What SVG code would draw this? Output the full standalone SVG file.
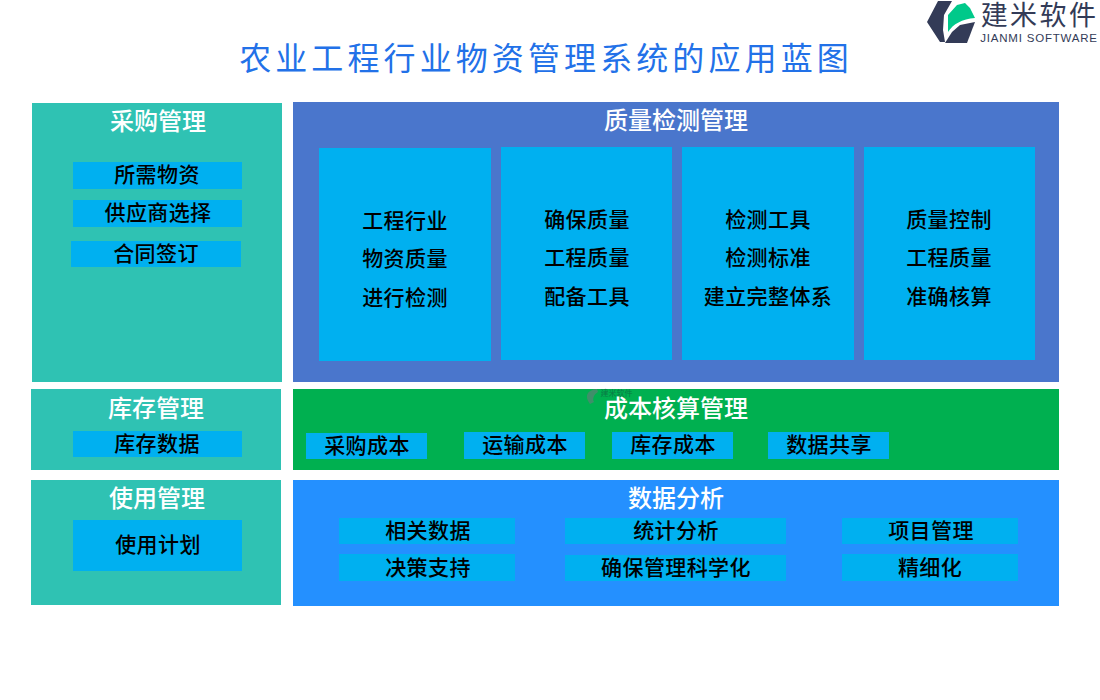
<svg xmlns="http://www.w3.org/2000/svg" width="1100" height="700" viewBox="0 0 1100 700">
<style>
text{font-family:"Noto Sans CJK SC","Noto Sans",sans-serif;text-anchor:middle}
.t{fill:#fff;font-size:24px;font-weight:500}
.b{fill:#000;font-size:21px;letter-spacing:.4px;font-weight:500}
.c{fill:#00b0f0}
.g{fill:#2fc2b3}
.title{fill:#2271e8;font-size:32px;letter-spacing:4.1px}
.logo{fill:#333b57}
</style>
<rect width="1100" height="700" fill="#fff"/>
<text class="title" x="546" y="70">农业工程行业物资管理系统的应用蓝图</text>
<g id="logo">
<path class="logo" d="M938 1H952L944 15L943 30L945 42H940L927 22Z"/>
<path d="M948 31V15L957 5L965 3L970 8L975 18C962 19 953 24 948 32Z" fill="#00c98a"/>
<path class="logo" d="M945 43L952 32L960 25L975 22L967 43Z"/>
<text x="1039.500" y="25" style="font-size:27px;letter-spacing:2.400px;fill:#333b57">建米软件</text>
<text x="1039" y="42" style="font-family:'Liberation Sans',sans-serif;font-size:11.500px;letter-spacing:.8px;fill:#333b57">JIANMI SOFTWARE</text>
</g>
<g id="purchase">
<rect class="g" x="32" y="103" width="250" height="279"/>
<text class="t" x="158" y="130">采购管理</text>
<rect class="c" x="73" y="162" width="169" height="27"/><text class="b" x="157" y="182">所需物资</text>
<rect class="c" x="73" y="200" width="169" height="27"/><text class="b" x="158" y="220">供应商选择</text>
<rect class="c" x="71" y="241" width="170" height="26"/><text class="b" x="156" y="261">合同签订</text>
</g>
<g id="quality">
<rect x="293" y="102" width="766" height="280" fill="#4a76cc"/>
<text class="t" x="676" y="129">质量检测管理</text>
<rect class="c" x="319" y="148" width="172" height="213"/>
<text class="b" x="405" y="228">工程行业</text><text class="b" x="405" y="266">物资质量</text><text class="b" x="405" y="305">进行检测</text>
<rect class="c" x="501" y="147" width="171" height="213"/>
<text class="b" x="587" y="227">确保质量</text><text class="b" x="587" y="265">工程质量</text><text class="b" x="587" y="304">配备工具</text>
<rect class="c" x="682" y="147" width="172" height="213"/>
<text class="b" x="768" y="227">检测工具</text><text class="b" x="768" y="265">检测标准</text><text class="b" x="768" y="304">建立完整体系</text>
<rect class="c" x="864" y="147" width="171" height="213"/>
<text class="b" x="949" y="227">质量控制</text><text class="b" x="949" y="265">工程质量</text><text class="b" x="949" y="304">准确核算</text>
</g>
<g id="inventory">
<rect class="g" x="31" y="389" width="250" height="81"/>
<text class="t" x="156" y="417">库存管理</text>
<rect class="c" x="73" y="431" width="169" height="26"/><text class="b" x="157" y="451">库存数据</text>
</g>
<g id="cost">
<rect x="293" y="389" width="766" height="81" fill="#00b050"/>
<g id="watermark"><path d="M590 404C584 396 587 390 597 389L598 392C594 394 592 399 594 402Z" fill="#3f8f6a"/><text x="616.500" y="396" style="font-size:8px;fill:#0a7a45">建米软件</text></g>
<text class="t" x="676" y="417">成本核算管理</text>
<rect class="c" x="306" y="433" width="121" height="26"/><text class="b" x="367" y="453">采购成本</text>
<rect class="c" x="464" y="432" width="121" height="27"/><text class="b" x="525" y="452">运输成本</text>
<rect class="c" x="612" y="432" width="121" height="27"/><text class="b" x="673" y="452">库存成本</text>
<rect class="c" x="768" y="432" width="121" height="27"/><text class="b" x="829" y="452">数据共享</text>
</g>
<g id="usage">
<rect class="g" x="31" y="480" width="250" height="125"/>
<text class="t" x="157" y="507">使用管理</text>
<rect class="c" x="73" y="520" width="169" height="51"/><text class="b" x="158" y="552">使用计划</text>
</g>
<g id="analysis">
<rect x="293" y="480" width="766" height="126" fill="#2490ff"/>
<text class="t" x="676" y="507">数据分析</text>
<rect class="c" x="339" y="518" width="176" height="26"/><text class="b" x="428" y="538">相关数据</text>
<rect class="c" x="565" y="518" width="221" height="26"/><text class="b" x="676" y="538">统计分析</text>
<rect class="c" x="842" y="518" width="176" height="26"/><text class="b" x="931" y="538">项目管理</text>
<rect class="c" x="339" y="554" width="176" height="27"/><text class="b" x="428" y="575">决策支持</text>
<rect class="c" x="565" y="555" width="221" height="26"/><text class="b" x="676" y="575">确保管理科学化</text>
<rect class="c" x="842" y="554" width="176" height="27"/><text class="b" x="930" y="575">精细化</text>
</g>
</svg>
